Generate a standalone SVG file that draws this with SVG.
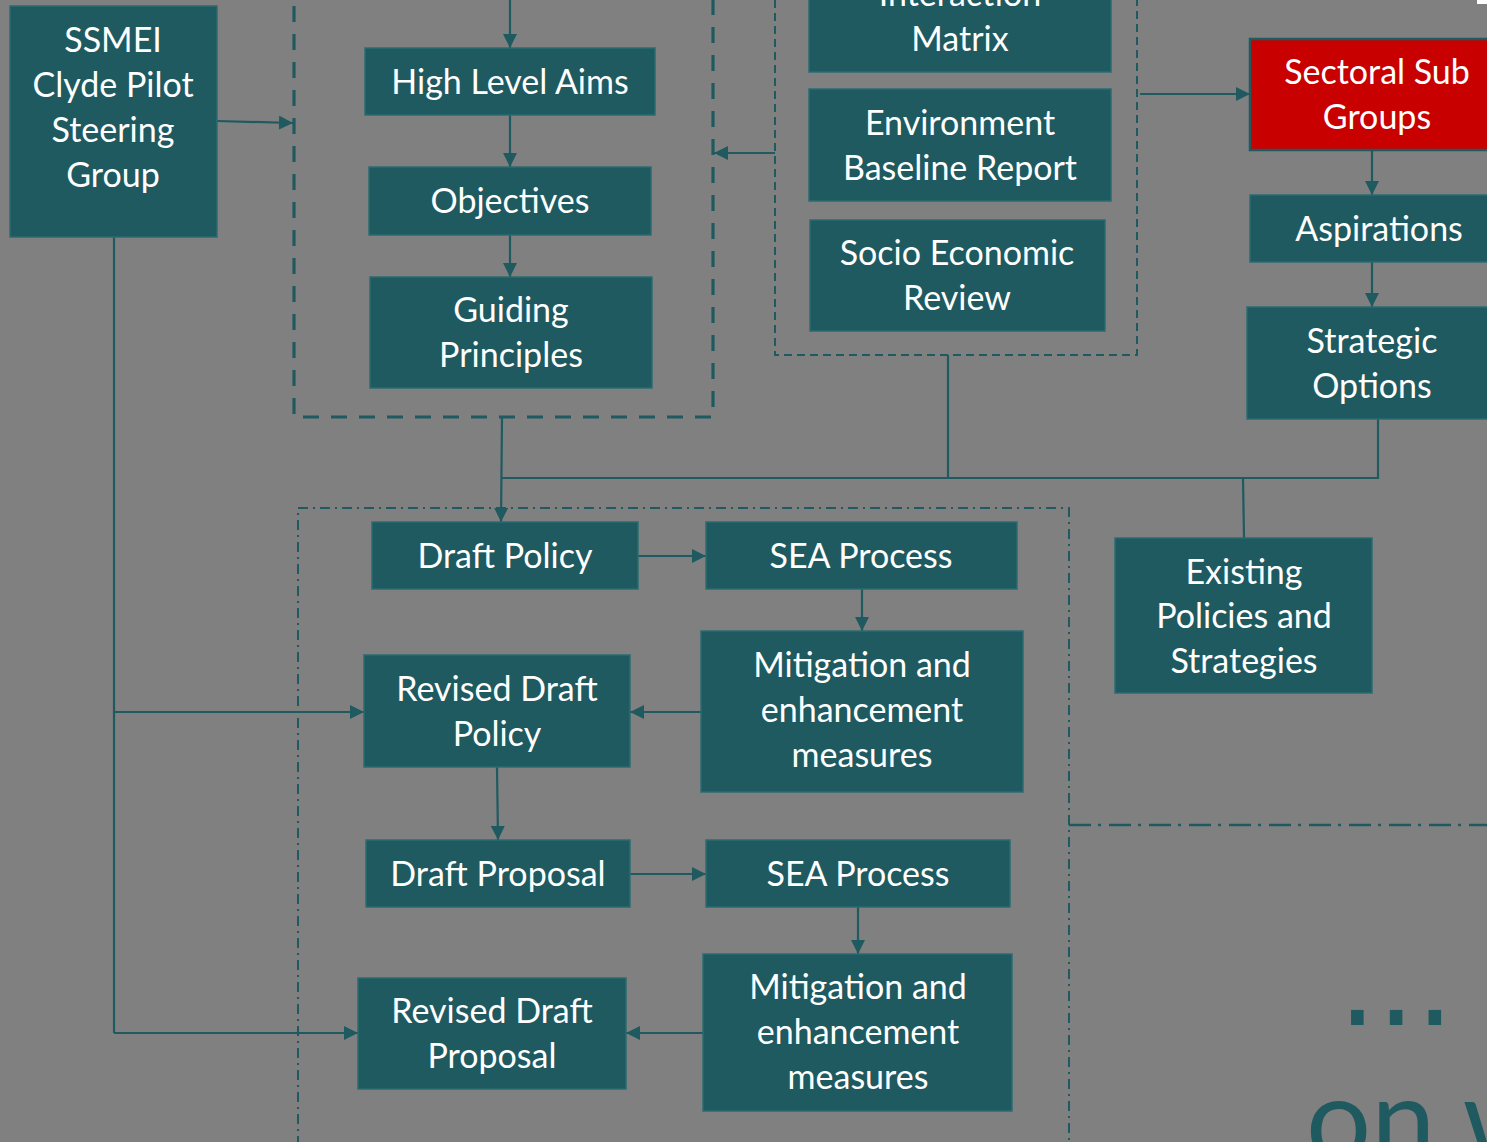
<svg xmlns="http://www.w3.org/2000/svg" width="1487" height="1142" viewBox="0 0 1487 1142">
<style>
.bx{fill:#1E5A60;stroke:#2A6C72;stroke-width:1.5}
.red{fill:#C90000;stroke:#1E5A60;stroke-width:2.5}
.t{font-family:Lato,"Liberation Sans",sans-serif;font-size:34px;fill:#FFFFFF;text-anchor:middle}
.ln{fill:none;stroke:#1E5A60;stroke-width:2.2}
.ar{fill:none;stroke:#1E5A60;stroke-width:2.2;marker-end:url(#ah)}
.dA{fill:none;stroke:#1E5A60;stroke-width:3.2;stroke-dasharray:16 12}
.dB{fill:none;stroke:#1E5A60;stroke-width:2;stroke-dasharray:8 5}
.dC{fill:none;stroke:#1E5A60;stroke-width:2;stroke-dasharray:10 5 2 5}
.dD{fill:none;stroke:#1E5A60;stroke-width:2.5;stroke-dasharray:22 7 3 8}
.big{font-family:Lato,"Liberation Sans",sans-serif;fill:#1E5A60}
</style>
<defs>
<marker id="ah" viewBox="0 0 10 10" refX="10" refY="5" markerWidth="14" markerHeight="14" markerUnits="userSpaceOnUse" orient="auto">
<path d="M0,0 L10,5 L0,10 z" fill="#1E5A60"/>
</marker>
</defs>
<rect x="0" y="0" width="1487" height="1142" fill="#808080"/>
<rect x="1477" y="0" width="10" height="4" fill="#FFFFFF"/>

<g id="containers">
<rect class="dA" x="294" y="-30" width="419" height="447"/>
<rect class="dB" x="775" y="-30" width="362" height="385"/>
<rect class="dC" x="298" y="508" width="771" height="670"/>
<line class="dD" x1="1069" y1="825" x2="1495" y2="825"/>
</g>

<g id="connectors">
<line class="ar" x1="510" y1="0" x2="510" y2="48"/>
<line class="ar" x1="510" y1="115" x2="510" y2="167"/>
<line class="ar" x1="510" y1="235" x2="510" y2="277"/>
<line class="ar" x1="217" y1="121" x2="293" y2="123"/>
<line class="ar" x1="775" y1="153" x2="714" y2="153"/>
<line class="ar" x1="1140" y1="94" x2="1250" y2="94"/>
<line class="ar" x1="1372" y1="150" x2="1372" y2="195"/>
<line class="ar" x1="1372" y1="262" x2="1372" y2="307"/>
<polyline class="ar" points="502,418 501,522"/>
<polyline class="ln" points="502,478 1378,478 1378,419"/>
<line class="ln" x1="948" y1="355" x2="948" y2="478"/>
<line class="ln" x1="1243" y1="478" x2="1244" y2="538"/>
<line class="ar" x1="638" y1="556" x2="706" y2="556"/>
<line class="ar" x1="862" y1="589" x2="862" y2="631"/>
<line class="ar" x1="701" y1="712" x2="630" y2="712"/>
<line class="ln" x1="114" y1="237" x2="114" y2="1033"/>
<line class="ar" x1="114" y1="712" x2="364" y2="712"/>
<line class="ar" x1="114" y1="1033" x2="358" y2="1033"/>
<line class="ar" x1="497" y1="767" x2="498" y2="840"/>
<line class="ar" x1="630" y1="874" x2="706" y2="874"/>
<line class="ar" x1="858" y1="907" x2="858" y2="954"/>
<line class="ar" x1="703" y1="1033" x2="626" y2="1033"/>
</g>

<g id="ssmei">
<rect class="bx" x="10" y="6" width="207" height="231"/>
<text class="t" x="113" y="52">SSMEI</text>
<text class="t" x="113" y="97">Clyde Pilot</text>
<text class="t" x="113" y="142">Steering</text>
<text class="t" x="113" y="187">Group</text>
</g>
<g id="high-level-aims">
<rect class="bx" x="365" y="48" width="290" height="67"/>
<text class="t" x="510" y="94">High Level Aims</text>
</g>
<g id="objectives">
<rect class="bx" x="369" y="167" width="282" height="68"/>
<text class="t" x="510" y="213">Objectives</text>
</g>
<g id="guiding-principles">
<rect class="bx" x="370" y="277" width="282" height="111"/>
<text class="t" x="511" y="322">Guiding</text>
<text class="t" x="511" y="367">Principles</text>
</g>
<g id="interaction-matrix">
<rect class="bx" x="809" y="-40" width="302" height="112"/>
<text class="t" x="960" y="6">Interaction</text>
<text class="t" x="960" y="51">Matrix</text>
</g>
<g id="environment-baseline">
<rect class="bx" x="809" y="89" width="302" height="112"/>
<text class="t" x="960" y="135">Environment</text>
<text class="t" x="960" y="180">Baseline Report</text>
</g>
<g id="socio-economic">
<rect class="bx" x="810" y="220" width="295" height="111"/>
<text class="t" x="957" y="265">Socio Economic</text>
<text class="t" x="957" y="310">Review</text>
</g>
<g id="sectoral-sub-groups">
<rect class="red" x="1250" y="39" width="250" height="111"/>
<text class="t" x="1377" y="84">Sectoral Sub</text>
<text class="t" x="1377" y="129">Groups</text>
</g>
<g id="aspirations">
<rect class="bx" x="1250" y="195" width="250" height="67"/>
<text class="t" x="1379" y="241">Aspirations</text>
</g>
<g id="strategic-options">
<rect class="bx" x="1247" y="307" width="253" height="112"/>
<text class="t" x="1372" y="353">Strategic</text>
<text class="t" x="1372" y="398">Options</text>
</g>
<g id="draft-policy">
<rect class="bx" x="372" y="522" width="266" height="67"/>
<text class="t" x="505" y="568">Draft Policy</text>
</g>
<g id="sea-process-1">
<rect class="bx" x="706" y="522" width="311" height="67"/>
<text class="t" x="861" y="568">SEA Process</text>
</g>
<g id="mitigation-1">
<rect class="bx" x="701" y="631" width="322" height="161"/>
<text class="t" x="862" y="677">Mitigation and</text>
<text class="t" x="862" y="722">enhancement</text>
<text class="t" x="862" y="767">measures</text>
</g>
<g id="revised-draft-policy">
<rect class="bx" x="364" y="655" width="266" height="112"/>
<text class="t" x="497" y="701">Revised Draft</text>
<text class="t" x="497" y="746">Policy</text>
</g>
<g id="draft-proposal">
<rect class="bx" x="366" y="840" width="264" height="67"/>
<text class="t" x="498" y="886">Draft Proposal</text>
</g>
<g id="sea-process-2">
<rect class="bx" x="706" y="840" width="304" height="67"/>
<text class="t" x="858" y="886">SEA Process</text>
</g>
<g id="mitigation-2">
<rect class="bx" x="703" y="954" width="309" height="157"/>
<text class="t" x="858" y="999">Mitigation and</text>
<text class="t" x="858" y="1044">enhancement</text>
<text class="t" x="858" y="1089">measures</text>
</g>
<g id="revised-draft-proposal">
<rect class="bx" x="358" y="978" width="268" height="111"/>
<text class="t" x="492" y="1023">Revised Draft</text>
<text class="t" x="492" y="1068">Proposal</text>
</g>
<g id="existing-policies">
<rect class="bx" x="1115" y="538" width="257" height="155"/>
<text class="t" x="1244" y="584">Existing</text>
<text class="t" x="1244" y="628">Policies and</text>
<text class="t" x="1244" y="673">Strategies</text>
</g>

<g id="background-text">
<text x="1338" y="1025" font-family="'DejaVu Sans',sans-serif" font-size="122" fill="#1E5A60">...</text>
<text class="big" x="1306" y="1160" font-size="115">on w</text>
</g>
</svg>
